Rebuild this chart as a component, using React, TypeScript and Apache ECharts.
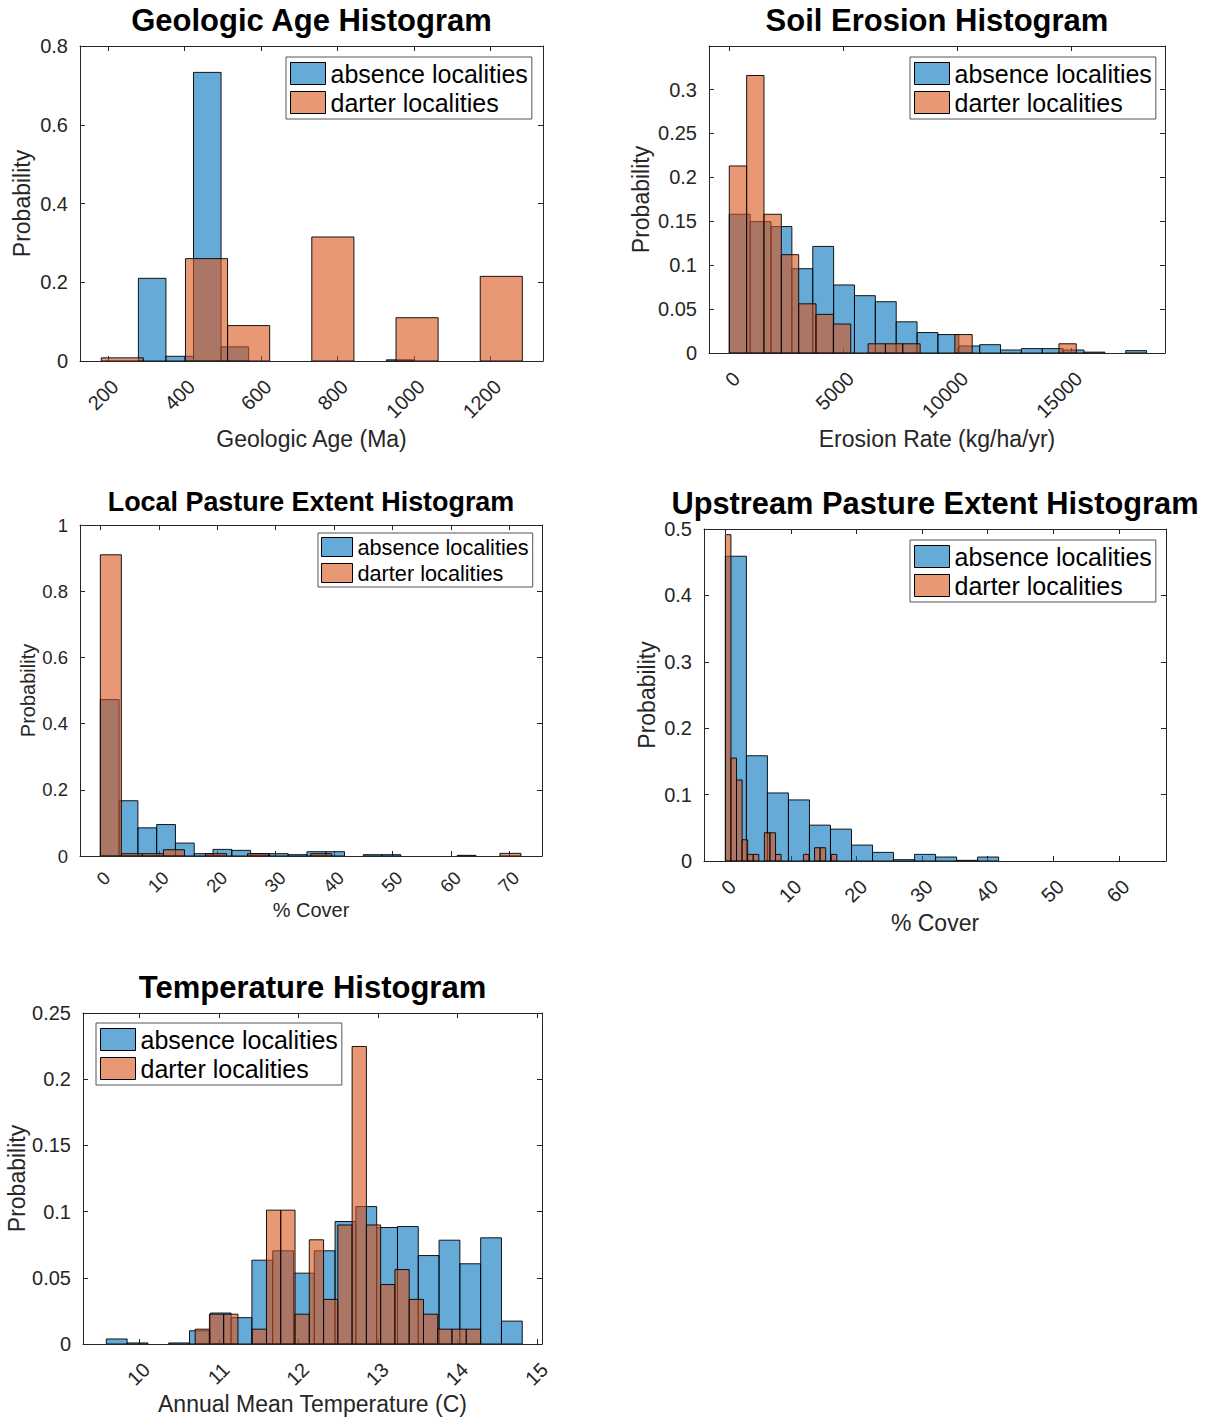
import React, { useEffect, useRef } from 'react';
import * as echarts from 'echarts';

const FONT = "'Liberation Sans', Arial, Helvetica, sans-serif";
const AXIS = '#262626';
const BLUE_FILL = 'rgba(0,114,189,0.6)';
const ORANGE_FILL = 'rgba(217,83,25,0.6)';
const EDGE = 'rgba(0,0,0,0.9)';
const SERIES_NAMES = ['absence localities', 'darter localities'];

// ---- Geologic age ----
const geoBlueStart = 280;
const geoBlueWidth = 72;
const geoBlue = [0.21, 0.012, 0.733, 0.036, 0, 0, 0, 0, 0, 0.003];
const geoOrangeStart = 183;
const geoOrangeWidth = 110;
const geoOrange = [0.008, 0, 0.26, 0.09, 0, 0.315, 0, 0.11, 0, 0.215];
const geoXTicks = [200, 400, 600, 800, 1000, 1200];
const geoYTicks = [0, 0.2, 0.4, 0.6, 0.8];

// ---- Soil erosion ----
const eroBlueStart = 0;
const eroBlueWidth = 914;
const eroBlue = [0.158, 0.1496, 0.144, 0.096, 0.1214, 0.0775, 0.0653, 0.0584, 0.0355, 0.0233, 0.021, 0.008, 0.0095, 0.0034, 0.005, 0.005, 0.0034, 0.001, 0, 0.0027];
const eroOrangeStart = 0;
const eroOrangeWidth = 760;
const eroOrange = [0.213, 0.316, 0.158, 0.112, 0.056, 0.044, 0.033, 0, 0.0105, 0.0105, 0.0105, 0, 0, 0.021, 0, 0, 0, 0, 0, 0.0105];
const eroXTicks = [0, 5000, 10000, 15000];
const eroYTicks = [0, 0.05, 0.1, 0.15, 0.2, 0.25, 0.3];

// ---- Local pasture ----
const locBlueStart = 0;
const locBlueWidth = 3.215;
const locBlue = [0.4725, 0.167, 0.085, 0.095, 0.039, 0.007, 0.02, 0.017, 0.007, 0.007, 0.004, 0.013, 0.013, 0, 0.004, 0.004, 0, 0, 0, 0.002];
const locOrangeStart = 0;
const locOrangeWidth = 3.6;
const locOrange = [0.91, 0.007, 0.007, 0.019, 0, 0.007, 0, 0.007, 0, 0, 0.007, 0, 0, 0, 0, 0, 0, 0, 0, 0.008];
const locXTicks = [0, 10, 20, 30, 40, 50, 60, 70];
const locYTicks = [0, 0.2, 0.4, 0.6, 0.8, 1];

// ---- Upstream pasture ----
const upBlueStart = 0;
const upBlueWidth = 3.206;
const upBlue = [0.459, 0.1585, 0.1025, 0.092, 0.054, 0.048, 0.024, 0.013, 0.002, 0.01, 0.006, 0.001, 0.006];
const upOrangeStart = 0;
const upOrangeWidth = 0.85;
const upOrange = [0.4915, 0.155, 0.122, 0.032, 0.01, 0.01, 0, 0.0425, 0.0425, 0.01, 0, 0, 0, 0, 0.01, 0, 0.02, 0.02, 0, 0.01];
const upXTicks = [0, 10, 20, 30, 40, 50, 60];
const upYTicks = [0, 0.1, 0.2, 0.3, 0.4, 0.5];

// ---- Temperature ----
const tmpBlueStart = 9.586;
const tmpBlueWidth = 0.2613;
const tmpBlue = [0.0038, 0.0008, 0, 0.0008, 0.01, 0.0234, 0.0199, 0.0633, 0.0704, 0.0535, 0.0704, 0.0925, 0.1038, 0.088, 0.0887, 0.0668, 0.0784, 0.0606, 0.0802, 0.0173];
const tmpOrangeStart = 10.702;
const tmpOrangeWidth = 0.1793;
const tmpOrange = [0.0112, 0.0225, 0.0225, 0, 0.0112, 0.1011, 0.1011, 0.0225, 0.0787, 0.0337, 0.0899, 0.2247, 0.0899, 0.0449, 0.0562, 0.0337, 0.0225, 0.0112, 0.0112, 0.0112];
const tmpXTicks = [10, 11, 12, 13, 14, 15];
const tmpYTicks = [0, 0.05, 0.1, 0.15, 0.2, 0.25];

type Hist = { start: number; width: number; values: number[] };
type Panel = {
  title: string;
  titleSize: number;
  titleTop: number;
  grid: { left: number; top: number; width: number; height: number };
  xMin: number;
  xMax: number;
  xTicks: number[];
  yMax: number;
  yTicks: number[];
  xName: string;
  yName: string;
  xNameGap: number;
  yNameGap: number;
  nameSize: number;
  tickSize: number;
  xLabelMargin: number;
  legend: { left: number; top: number; fontSize: number; itemWidth: number; itemHeight: number; lineHeight: number; pad: number[] };
  blue: Hist;
  orange: Hist;
};

const panels: Panel[] = [
  {
    title: 'Geologic Age Histogram', titleSize: 31, titleTop: 5,
    grid: { left: 80, top: 46, width: 463, height: 315 },
    xMin: 127.5, xMax: 1337, xTicks: geoXTicks, yMax: 0.8, yTicks: geoYTicks,
    xName: 'Geologic Age (Ma)', yName: 'Probability', xNameGap: 66, yNameGap: 47,
    nameSize: 23, tickSize: 20, xLabelMargin: 15,
    legend: { left: 286, top: 57, fontSize: 25, itemWidth: 35, itemHeight: 22, lineHeight: 27, pad: [3, 4, 3, 4] },
    blue: { start: geoBlueStart, width: geoBlueWidth, values: geoBlue },
    orange: { start: geoOrangeStart, width: geoOrangeWidth, values: geoOrange },
  },
  {
    title: 'Soil Erosion Histogram', titleSize: 31, titleTop: 5,
    grid: { left: 709, top: 46, width: 456, height: 307 },
    xMin: -889, xMax: 19087, xTicks: eroXTicks, yMax: 0.3496, yTicks: eroYTicks,
    xName: 'Erosion Rate (kg/ha/yr)', yName: 'Probability', xNameGap: 74, yNameGap: 57,
    nameSize: 23, tickSize: 20, xLabelMargin: 15,
    legend: { left: 910, top: 57, fontSize: 25, itemWidth: 35, itemHeight: 22, lineHeight: 27, pad: [3, 4, 3, 4] },
    blue: { start: eroBlueStart, width: eroBlueWidth, values: eroBlue },
    orange: { start: eroOrangeStart, width: eroOrangeWidth, values: eroOrange },
  },
  {
    title: 'Local Pasture Extent Histogram', titleSize: 26.9, titleTop: 489,
    grid: { left: 80, top: 525, width: 462, height: 331 },
    xMin: -3.48, xMax: 75.6, xTicks: locXTicks, yMax: 1, yTicks: locYTicks,
    xName: '% Cover', yName: 'Probability', xNameGap: 44, yNameGap: 42,
    nameSize: 20, tickSize: 18.5, xLabelMargin: 12,
    legend: { left: 318, top: 533, fontSize: 21.7, itemWidth: 31, itemHeight: 19, lineHeight: 24, pad: [2, 4, 2, 3] },
    blue: { start: locBlueStart, width: locBlueWidth, values: locBlue },
    orange: { start: locOrangeStart, width: locOrangeWidth, values: locOrange },
  },
  {
    title: 'Upstream Pasture Extent Histogram', titleSize: 30.8, titleTop: 488,
    grid: { left: 704, top: 529, width: 462, height: 332 },
    xMin: -3.26, xMax: 67.2, xTicks: upXTicks, yMax: 0.5, yTicks: upYTicks,
    xName: '% Cover', yName: 'Probability', xNameGap: 50, yNameGap: 46,
    nameSize: 23, tickSize: 20, xLabelMargin: 15,
    legend: { left: 910, top: 540, fontSize: 25, itemWidth: 35, itemHeight: 22, lineHeight: 27, pad: [3, 4, 3, 4] },
    blue: { start: upBlueStart, width: upBlueWidth, values: upBlue },
    orange: { start: upOrangeStart, width: upOrangeWidth, values: upOrange },
  },
  {
    title: 'Temperature Histogram', titleSize: 31, titleTop: 972,
    grid: { left: 83, top: 1013, width: 459, height: 331 },
    xMin: 9.293, xMax: 15.06, xTicks: tmpXTicks, yMax: 0.25, yTicks: tmpYTicks,
    xName: 'Annual Mean Temperature (C)', yName: 'Probability', xNameGap: 48, yNameGap: 55,
    nameSize: 23, tickSize: 20, xLabelMargin: 15,
    legend: { left: 96, top: 1023, fontSize: 25, itemWidth: 35, itemHeight: 22, lineHeight: 27, pad: [3, 4, 3, 4] },
    blue: { start: tmpBlueStart, width: tmpBlueWidth, values: tmpBlue },
    orange: { start: tmpOrangeStart, width: tmpOrangeWidth, values: tmpOrange },
  },
];

function histRows(h: Hist): number[][] {
  return h.values.map((v, i) => [h.start + i * h.width, h.start + (i + 1) * h.width, v]);
}

function makeRender(fill: string) {
  return (params: any, api: any) => {
    const x0 = api.value(0);
    const x1 = api.value(1);
    const y = api.value(2);
    if (!(y > 0)) return null;
    const p0 = api.coord([x0, 0]);
    const p1 = api.coord([x1, y]);
    return {
      type: 'rect',
      shape: { x: p0[0], y: p1[1], width: p1[0] - p0[0], height: p0[1] - p1[1] },
      style: { fill, stroke: EDGE, lineWidth: 1 },
    };
  };
}

const fmt = (v: number) => String(v);

function buildOption() {
  const grid: any[] = [];
  const xAxis: any[] = [];
  const yAxis: any[] = [];
  const series: any[] = [];
  const title: any[] = [];
  const legend: any[] = [];
  const fills = [BLUE_FILL, ORANGE_FILL];

  panels.forEach((p, i) => {
    grid.push({ ...p.grid, containLabel: false, outerBoundsMode: 'none', show: false });
    const tickStyle = { show: true, inside: true, length: 5, lineStyle: { color: AXIS, width: 1 } };
    const lineStyle = { show: true, onZero: false, lineStyle: { color: AXIS, width: 1 } };
    xAxis.push({
      type: 'value', gridIndex: i, position: 'bottom', min: p.xMin, max: p.xMax,
      axisLine: lineStyle,
      axisTick: { ...tickStyle, customValues: p.xTicks },
      axisLabel: {
        customValues: p.xTicks, formatter: fmt, rotate: 45, margin: p.xLabelMargin,
        align: 'right', verticalAlign: 'top',
        fontSize: p.tickSize, fontFamily: FONT, color: AXIS,
      },
      splitLine: { show: false },
      name: p.xName, nameLocation: 'middle', nameGap: p.xNameGap, nameMoveOverlap: false,
      nameTextStyle: { fontSize: p.nameSize, fontFamily: FONT, color: AXIS },
    });
    xAxis.push({
      type: 'value', gridIndex: i, position: 'top', min: p.xMin, max: p.xMax,
      axisLine: lineStyle,
      axisTick: { ...tickStyle, customValues: p.xTicks },
      axisLabel: { show: false },
      splitLine: { show: false },
    });
    yAxis.push({
      type: 'value', gridIndex: i, position: 'left', min: 0, max: p.yMax,
      axisLine: lineStyle,
      axisTick: { ...tickStyle, customValues: p.yTicks },
      axisLabel: {
        customValues: p.yTicks, formatter: fmt, margin: 12,
        fontSize: p.tickSize, fontFamily: FONT, color: AXIS,
      },
      splitLine: { show: false },
      name: p.yName, nameLocation: 'middle', nameGap: p.yNameGap, nameMoveOverlap: false,
      nameTextStyle: { fontSize: p.nameSize, fontFamily: FONT, color: AXIS },
    });
    yAxis.push({
      type: 'value', gridIndex: i, position: 'right', min: 0, max: p.yMax,
      axisLine: lineStyle,
      axisTick: { ...tickStyle, customValues: p.yTicks },
      axisLabel: { show: false },
      splitLine: { show: false },
    });

    [p.blue, p.orange].forEach((h, k) => {
      series.push({
        type: 'custom',
        name: SERIES_NAMES[k],
        xAxisIndex: i * 2,
        yAxisIndex: i * 2,
        data: histRows(h),
        encode: { x: [0, 1], y: 2 },
        clip: true,
        itemStyle: { color: fills[k] },
        renderItem: makeRender(fills[k]),
        z: 2 + k,
      });
    });

    title.push({
      text: p.title,
      left: p.grid.left + p.grid.width / 2,
      top: p.titleTop,
      textAlign: 'center',
      padding: 0,
      textStyle: { fontSize: p.titleSize, fontWeight: 'bold', fontFamily: FONT, color: '#000', lineHeight: p.titleSize },
    });

    legend.push({
      orient: 'vertical',
      left: p.legend.left,
      top: p.legend.top,
      padding: p.legend.pad,
      itemGap: 2,
      itemWidth: p.legend.itemWidth,
      itemHeight: p.legend.itemHeight,
      backgroundColor: '#fff',
      borderColor: '#555',
      borderWidth: 1,
      selectedMode: false,
      textStyle: { fontSize: p.legend.fontSize, fontFamily: FONT, color: '#000', lineHeight: p.legend.lineHeight },
      data: SERIES_NAMES.map((n, k) => ({
        name: n,
        icon: 'rect',
        itemStyle: { color: fills[k], borderColor: '#000', borderWidth: 1 },
      })),
      z: 10,
    });
  });

  return {
    animation: false,
    backgroundColor: '#fff',
    textStyle: { fontFamily: FONT },
    title,
    legend,
    grid,
    xAxis,
    yAxis,
    series,
  };
}

export default function App() {
  const ref = useRef<HTMLDivElement>(null);
  useEffect(() => {
    if (!ref.current) return;
    const chart = echarts.init(ref.current, null, { renderer: 'svg' });
    chart.setOption(buildOption() as any);
    return () => chart.dispose();
  }, []);
  return (
    <div
      ref={ref}
      style={{ position: 'absolute', left: 0, top: 0, width: 1209, height: 1419, background: '#fff' }}
    />
  );
}
